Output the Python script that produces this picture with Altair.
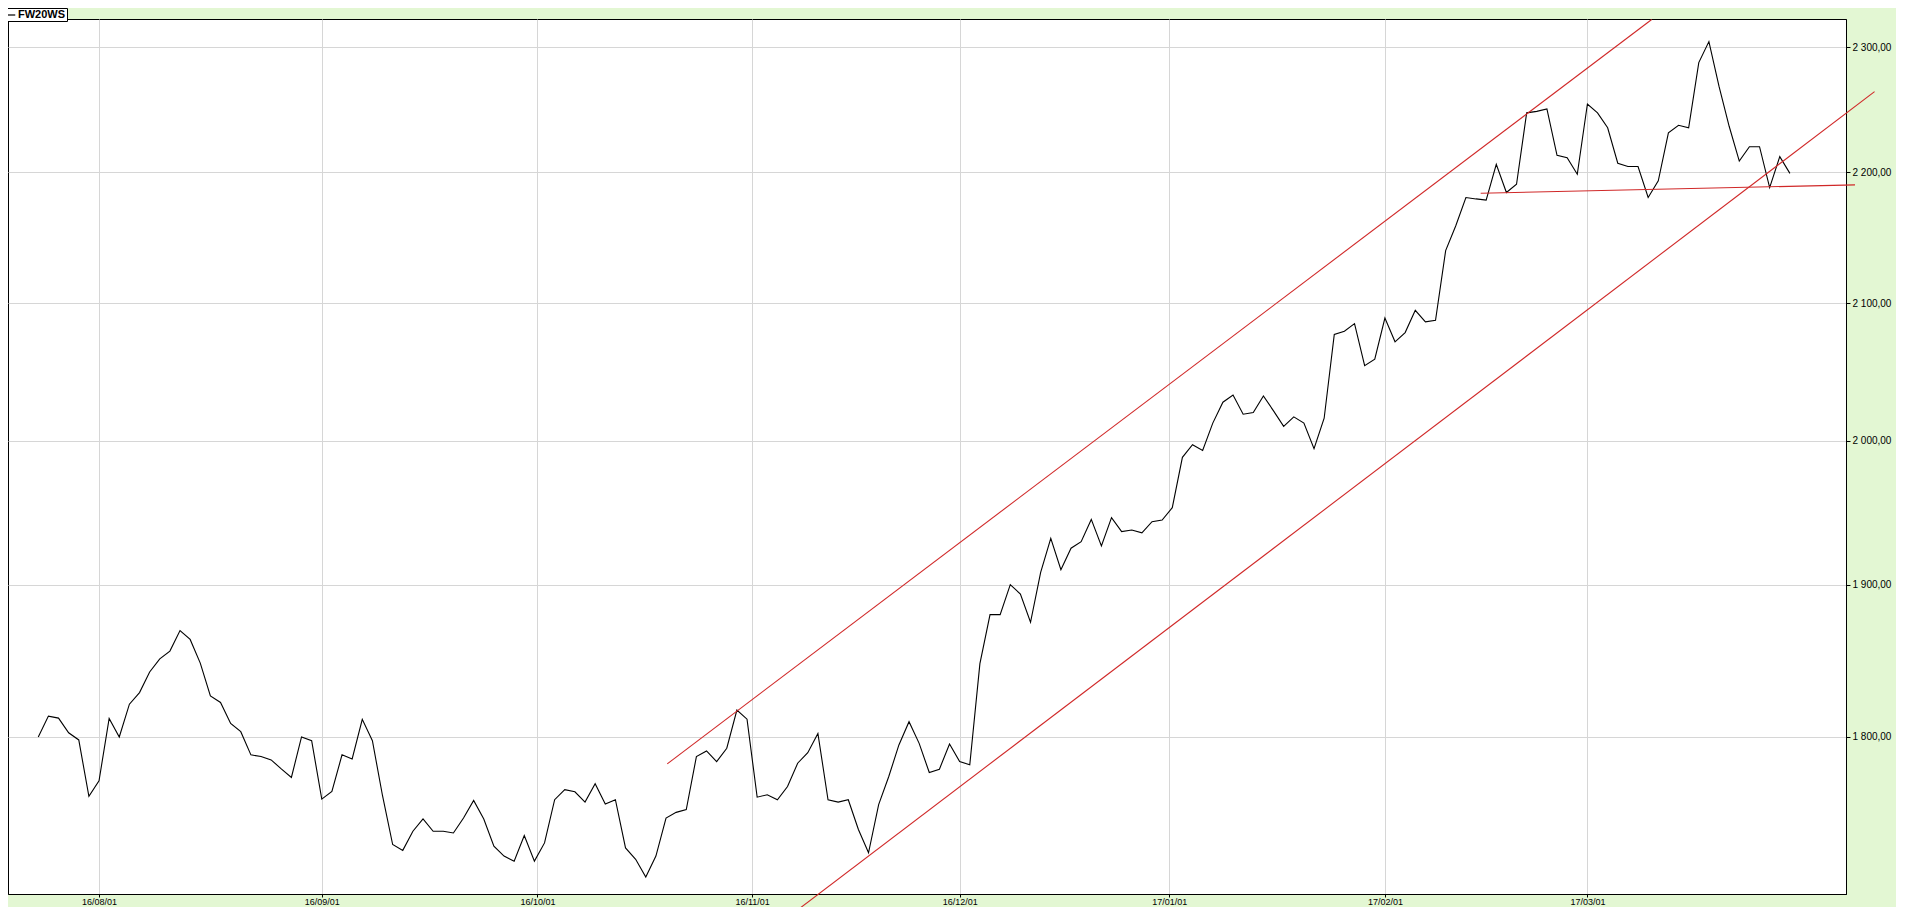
import altair as alt
import pandas as pd

# --- data ---
series_name = "FW20WS"
values = [
    1800.0, 1813.4, 1812.1, 1802.7, 1798.1, 1762.4, 1772.2, 1811.9, 1800.0, 1821.1,
    1828.6, 1842.1, 1850.7, 1855.8, 1869.4, 1863.5, 1847.9, 1826.5, 1822.2, 1808.7,
    1803.4, 1788.6, 1787.5, 1785.4, 1779.7, 1774.3, 1800.0, 1797.6, 1760.7, 1765.5,
    1788.6, 1786.0, 1811.3, 1797.6, 1762.8, 1732.5, 1728.9, 1740.7, 1748.3, 1740.7,
    1740.7, 1739.6, 1748.9, 1759.9, 1748.3, 1731.5, 1725.4, 1722.3, 1738.0, 1722.3,
    1733.5, 1760.3, 1766.6, 1765.3, 1758.8, 1770.3, 1757.6, 1760.3, 1730.4, 1723.4,
    1712.6, 1725.4, 1748.9, 1752.4, 1754.1, 1787.5, 1791.1, 1784.3, 1792.8, 1817.3,
    1811.4, 1761.9, 1763.4, 1760.3, 1768.6, 1783.3, 1790.0, 1802.3, 1760.3, 1758.8,
    1760.3, 1741.8, 1727.4, 1757.2, 1774.9, 1794.9, 1809.8, 1795.9, 1777.4, 1779.5,
    1795.5, 1784.3, 1782.3, 1847.5, 1880.0, 1880.0, 1900.1, 1893.8, 1874.9, 1908.4,
    1931.7, 1910.2, 1924.9, 1929.4, 1944.7, 1926.5, 1945.9, 1936.3, 1937.4, 1935.4,
    1943.1, 1944.3, 1952.8, 1988.1, 1997.0, 1993.0, 2012.4, 2027.4, 2032.6, 2018.8,
    2020.0, 2031.9, 2021.2, 2010.1, 2016.9, 2012.4, 1994.2, 2015.9, 2076.8, 2079.2,
    2084.8, 2053.9, 2058.7, 2089.0, 2071.4, 2078.2, 2094.7, 2086.1, 2087.3, 2139.6,
    2158.6, 2180.4, 2179.3, 2178.4, 2206.3, 2184.3, 2190.7, 2247.0, 2248.2, 2250.1,
    2213.3, 2211.5, 2198.5, 2254.1, 2247.0, 2235.1, 2207.1, 2204.5, 2204.5, 2180.4,
    2193.3, 2231.1, 2237.1, 2235.1, 2287.5, 2304.6, 2268.2, 2236.3, 2208.8, 2220.1,
    2220.1, 2188.1, 2212.3, 2199.2,
]

tick_pos = [6, 28, 49.3, 70.5, 91, 111.7, 133, 153]
tick_labels = ["16/08/01", "16/09/01", "16/10/01", "16/11/01",
               "16/12/01", "17/01/01", "17/02/01", "17/03/01"]
y_ticks = [1800, 1900, 2000, 2100, 2200, 2300]

# trend lines (drawn by hand on the original chart)
trend_ids = ["upper", "upper", "lower", "lower", "support", "support"]
trend_x = [62.12, 159.35, 75.13, 181.36, 142.46, 179.43]
trend_v = [1782.9, 2322.8, 1693.3, 2264.0, 2183.7, 2190.2]

df = pd.DataFrame({"i": list(range(len(values))), "v": values,
                   "s": [series_name] * len(values)})
tf = pd.DataFrame({"line": trend_ids, "i": trend_x, "v": trend_v})

FONT = "Liberation Sans"
GRID = "#d6d6d6"

label_expr = "''"
for p, l in reversed(list(zip(tick_pos, tick_labels))):
    label_expr = f"datum.value == {p} ? '{l}' : ({label_expr})"

x_scale = alt.Scale(domain=[-2.99, 178.54], nice=False, zero=False)
y_scale = alt.Scale(type="log", domain=[1702.3, 2323.2], nice=False, zero=False)

x_enc = alt.X(
    "i:Q", scale=x_scale, title=None,
    axis=alt.Axis(values=tick_pos, labelExpr=label_expr, grid=True,
                  gridColor=GRID, gridWidth=1, domainColor="black",
                  tickColor="black", tickSize=3, labelFont=FONT,
                  labelFontSize=9, labelColor="black", labelPadding=0,
                  labelFlush=False, labelOverlap=False),
)
y_enc = alt.Y(
    "v:Q", scale=y_scale, title=None,
    axis=alt.Axis(orient="right", values=y_ticks, grid=True, gridColor=GRID,
                  gridWidth=1, domainColor="black", tickColor="black",
                  tickSize=4, labelFont=FONT, labelFontSize=10,
                  labelColor="black", labelPadding=2, labelFlush=False,
                  labelExpr="replace(replace(format(datum.value, ',.2f'), ',', ' '), '.', ',')"),
)

price = alt.Chart(df).mark_line(strokeWidth=1.1).encode(
    x=x_enc,
    y=y_enc,
    color=alt.Color(
        "s:N", scale=alt.Scale(range=["black"]),
        legend=alt.Legend(title=None, orient="none", legendX=-5, legendY=-11,
                          symbolType="stroke", symbolSize=110,
                          symbolStrokeWidth=1.2, strokeColor="black",
                          fillColor="white", padding=1, labelOffset=2,
                          labelFont=FONT, labelFontSize=11,
                          labelFontWeight="bold", labelColor="black"),
    ),
)

trends = alt.Chart(tf).mark_line(color="#d02828", strokeWidth=1.1, clip=False).encode(
    x=alt.X("i:Q", scale=x_scale),
    y=alt.Y("v:Q", scale=y_scale),
    detail="line:N",
)

chart = alt.layer(price, trends).properties(
    width=1838,
    height=875,
    padding={"top": 11, "bottom": 13, "left": 0, "right": 50},
    autosize=alt.AutoSizeParams(type="none"),
    background="#e3f7d3",
).configure_view(
    fill="white", stroke="black", strokeWidth=1
)

chart.save("out.html", embed_options={"renderer": "svg", "actions": False})
